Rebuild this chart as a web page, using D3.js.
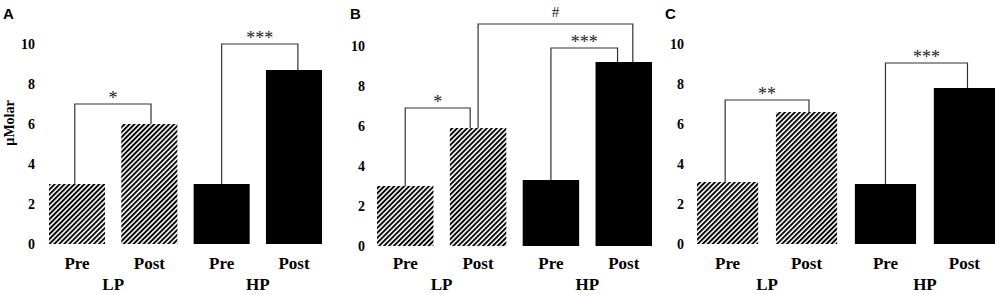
<!DOCTYPE html>
<html>
<head>
<meta charset="utf-8">
<script src="https://cdn.jsdelivr.net/npm/d3@7"></script>
<style>
  body { margin: 0; background: #fff; }
  svg { display: block; }
</style>
</head>
<body>
<div id="chart"></div>
<script>
// data
const panelNames = ["A", "B", "C"];
const groups = ["LP", "HP"];
const phases = ["Pre", "Post"];
const yTicks = [0, 2, 4, 6, 8, 10];

// values in µMolar, order: LP Pre, LP Post, HP Pre, HP Post
const valuesA = [3.0, 6.0, 3.0, 8.7];
const valuesB = [3.0, 5.9, 3.3, 9.2];
const valuesC = [3.1, 6.6, 3.0, 7.8];

// significance brackets: [from bar, to bar, bracket level, label]
const bracketsA = [["LP Pre", "LP Post", 7.0, "*"], ["HP Pre", "HP Post", 10.0, "***"]];
const bracketsB = [["LP Pre", "LP Post", 6.9, "*"], ["HP Pre", "HP Post", 9.9, "***"], ["LP Post", "HP Post", 11.1, "#"]];
const bracketsC = [["LP Pre", "LP Post", 7.2, "**"], ["HP Pre", "HP Post", 9.05, "***"]];

const barKeys = [];
groups.forEach(g => phases.forEach(p => barKeys.push(g + " " + p)));

// layout for each panel
const layout = [
  {x0: 49, x1: 322, zero: 244, tickX: 35, letterX: 3, anchors: [[0.46, 0.53], [0.5, 0.57]]},
  {x0: 377, x1: 652, zero: 246, tickX: 365, letterX: 350, anchors: [[0.5, 0.36], [0.5, 0.39], [0.5, 0.66]]},
  {x0: 697, x1: 995, zero: 244, tickX: 684, letterX: 665, anchors: [[0.46, 0.54], [0.5, 0.55]]}
];
const allValues = [valuesA, valuesB, valuesC];
const allBrackets = [bracketsA, bracketsB, bracketsC];

const width = 1000, height = 294;
const serif = "'Liberation Serif', 'Times New Roman', serif";

const svg = d3.select("#chart")
  .append("svg")
    .attr("width", width)
    .attr("height", height);

// diagonal hatch for LP bars
svg.append("defs")
  .append("pattern")
    .attr("id", "hatch")
    .attr("patternUnits", "userSpaceOnUse")
    .attr("width", 3.5)
    .attr("height", 10)
    .attr("patternTransform", "rotate(45)")
  .append("rect")
    .attr("width", 1.9)
    .attr("height", 10)
    .attr("fill", "#000");

panelNames.forEach((name, pi) => {
  const L = layout[pi];
  const values = allValues[pi];
  const g = svg.append("g");

  const x = d3.scaleBand()
    .domain(barKeys)
    .range([L.x0, L.x1])
    .paddingInner(0.225)
    .paddingOuter(0);

  const y = d3.scaleLinear()
    .domain([0, 10])
    .range([L.zero, L.zero - 200]);

  // panel letter
  g.append("text")
    .attr("x", L.letterX)
    .attr("y", 19)
    .style("font-family", "'Liberation Sans', Arial, sans-serif")
    .style("font-weight", "bold")
    .style("font-size", "15px")
    .text(name);

  // y tick labels (no axis line)
  g.selectAll(".tick")
    .data(yTicks)
    .enter()
    .append("text")
      .attr("x", L.tickX)
      .attr("y", d => y(d))
      .attr("dy", "0.35em")
      .attr("text-anchor", "end")
      .style("font-family", serif)
      .style("font-weight", "bold")
      .style("font-size", "14px")
      .text(d => d);

  if (pi === 0) {
    g.append("text")
      .attr("transform", "translate(14,123) rotate(-90)")
      .attr("text-anchor", "middle")
      .style("font-family", serif)
      .style("font-weight", "bold")
      .style("font-size", "14px")
      .text("µMolar");
  }

  // bars
  g.selectAll(".bar")
    .data(values)
    .enter()
    .append("rect")
      .attr("x", (d, i) => x(barKeys[i]))
      .attr("y", d => y(d))
      .attr("width", x.bandwidth())
      .attr("height", d => y(0) - y(d))
      .attr("fill", (d, i) => barKeys[i].startsWith("LP") ? "url(#hatch)" : "#000");

  // phase labels
  g.selectAll(".phase")
    .data(barKeys)
    .enter()
    .append("text")
      .attr("x", d => x(d) + x.bandwidth() / 2)
      .attr("y", 269)
      .attr("text-anchor", "middle")
      .style("font-family", serif)
      .style("font-weight", "bold")
      .style("font-size", "17px")
      .text(d => d.split(" ")[1]);

  // group labels
  g.selectAll(".group")
    .data(groups)
    .enter()
    .append("text")
      .attr("x", d => (x(d + " Pre") + x(d + " Post") + x.bandwidth()) / 2)
      .attr("y", 290)
      .attr("text-anchor", "middle")
      .style("font-family", serif)
      .style("font-weight", "bold")
      .style("font-size", "17px")
      .text(d => d);

  // significance brackets
  allBrackets[pi].forEach((b, bi) => {
    const [from, to, level, label] = b;
    const a = L.anchors[bi];
    const xa = x(from) + x.bandwidth() * a[0];
    const xb = x(to) + x.bandwidth() * a[1];
    const ya = y(values[barKeys.indexOf(from)]);
    const yb = y(values[barKeys.indexOf(to)]);
    const yl = y(level);
    g.append("path")
      .attr("d", d3.line()([[xa, ya], [xa, yl], [xb, yl], [xb, yb]]))
      .attr("fill", "none")
      .attr("stroke", "#333")
      .attr("stroke-width", 1.2);

    const t = g.append("text")
      .attr("x", (xa + xb) / 2)
      .attr("y", yl)
      .attr("text-anchor", "middle")
      .style("font-family", serif)
      .style("font-size", label === "#" ? "15px" : "18px")
      .style("fill", "#222")
      .text(label);
    const bb = t.node().getBBox();
    // glyph box is the em box; centre the visible glyph roughly
    const glyphShift = label === "#" ? -11 : -10;
    const emCenter = label === "#" ? bb.y + bb.height * 0.55 : bb.y + bb.height * 0.32;
    t.attr("y", yl + (yl + glyphShift - emCenter));
  });
});
</script>
</body>
</html>
